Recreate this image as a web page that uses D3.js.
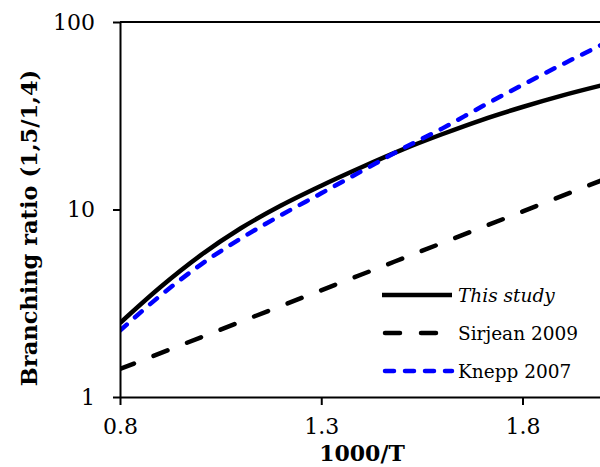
<html>
  <head>
    <style>
    body {
      margin: 0;
      background: #fff;
    }
    .tick line, .domain {
      stroke: #000;
      stroke-width: 2;
    }
    .title {
      font-family: "DejaVu Serif", serif;
      font-weight: bold;
    }
    .legend text {
      font-family: "DejaVu Serif", serif;
      font-size: 18.5px;
    }
    </style>
  </head>
  <body>
    <script src="https://d3js.org/d3.v7.min.js"></script>
    <script>
    var width = 600,
      height = 467;

    // 1000/T grid
    var invT = [0.8, 0.9, 1.0, 1.1, 1.2, 1.3, 1.4, 1.5, 1.6, 1.7, 1.8, 1.9, 2.0];
    // branching ratio
    var thisStudy = [2.48, 3.85, 5.69, 7.94, 10.5, 13.4, 16.8, 20.8, 25.2, 30.1, 35.2, 40.6, 46.1];
    var knepp = [2.26, 3.47, 5.07, 7.00, 9.33, 12.2, 16.0, 21.0, 27.0, 35.5, 46.2, 59.6, 76.2];
    var sirjeanT = [0.8, 1.1, 1.4, 1.7, 2.0];
    var sirjean = [1.41, 2.52, 4.50, 8.04, 14.4];

    var xTicks = [0.8, 1.3, 1.8];
    var yTicks = [1, 10, 100];
    var legendNames = ["This study", "Sirjean 2009", "Knepp 2007"];

    var svg = d3.select("body").append("svg")
        .attr("width", width)
        .attr("height", height);

    var x = d3.scaleLinear().domain([0.8, 2.0]).range([120, 603]);
    var y = d3.scaleLog().domain([1, 100]).range([397, 22]);

    svg.append("clipPath").attr("id", "clip")
      .append("rect").attr("x", 120).attr("y", 22).attr("width", 483).attr("height", 375);

    var line = d3.line()
      .x(function(d){ return x(d[0]); })
      .y(function(d){ return y(d[1]); })
      .curve(d3.curveMonotoneX);

    var series = [
      {name: legendNames[0], pts: d3.zip(invT, thisStudy), color: "#000", dash: null, w: 4.5},
      {name: legendNames[1], pts: d3.zip(sirjeanT, sirjean), color: "#000", dash: "15,21", w: 4.5},
      {name: legendNames[2], pts: d3.zip(invT, knepp), color: "#0000ff", dash: "9,11", w: 4.5}
    ];

    var plot = svg.append("g").attr("clip-path", "url(#clip)");
    plot.selectAll("path.series")
      .data(series)
      .enter().append("path")
        .attr("class", "series")
        .attr("d", function(d){ return line(d.pts); })
        .attr("fill", "none")
        .attr("stroke", function(d){ return d.color; })
        .attr("stroke-width", function(d){ return d.w; })
        .attr("stroke-dasharray", function(d){ return d.dash; })
        .attr("stroke-linecap", function(d){ return d.dash ? "round" : "butt"; });

    // axes
    var yAxis = svg.append("g")
      .attr("transform", "translate(120,0)")
      .call(d3.axisLeft(y).tickValues(yTicks).tickFormat(d3.format("d"))
        .tickSize(7).tickSizeOuter(0).tickPadding(18));

    var xAxis = svg.append("g")
      .attr("transform", "translate(0,397)")
      .call(d3.axisBottom(x).tickValues(xTicks).tickFormat(d3.format(".1f"))
        .tickSize(8).tickSizeOuter(0).tickPadding(13));

    [yAxis, xAxis].forEach(function(a){
      a.attr("font-family", "DejaVu Serif").attr("font-size", 22);
      a.selectAll(".tick text").attr("fill", "#000");
    });

    // top frame line
    svg.append("line")
      .attr("x1", 120).attr("x2", 603)
      .attr("y1", 22).attr("y2", 22)
      .attr("stroke", "#000").attr("stroke-width", 2);

    // titles
    svg.append("text")
      .attr("class", "title")
      .attr("x", 362).attr("y", 461)
      .attr("text-anchor", "middle")
      .style("font-size", "22px")
      .text("1000/T");

    svg.append("text")
      .attr("class", "title")
      .attr("transform", "translate(37,228) rotate(-90)")
      .attr("text-anchor", "middle")
      .style("font-size", "22.5px")
      .text("Branching ratio (1,5/1,4)");

    // legend
    var legend = svg.append("g").attr("class", "legend");
    var rows = legend.selectAll("g")
      .data(series)
      .enter().append("g")
        .attr("transform", function(d, i){ return "translate(0," + (295 + i * 38) + ")"; });

    rows.append("line")
      .attr("x1", function(d){ return d.dash ? 385 : 382; })
      .attr("x2", 452)
      .attr("stroke", function(d){ return d.color; })
      .attr("stroke-width", 4.5)
      .attr("stroke-dasharray", function(d){ return d.dash; })
      .attr("stroke-linecap", function(d){ return d.dash ? "round" : "butt"; });

    rows.append("text")
      .attr("x", 458)
      .attr("y", 7)
      .style("font-style", function(d, i){ return i === 0 ? "italic" : "normal"; })
      .text(function(d){ return d.name; });
    </script>
  </body>
</html>
